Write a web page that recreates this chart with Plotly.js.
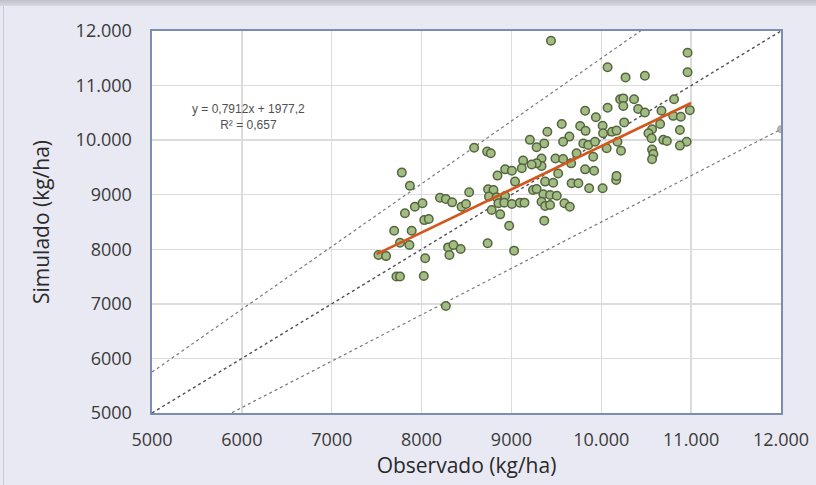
<!DOCTYPE html>
<html>
<head>
<meta charset="utf-8">
<script src="https://cdn.plot.ly/plotly-3.0.1.min.js"></script>
<style>
  html, body { margin: 0; padding: 0; background: #e9e9f3; }
  #chart { width: 816px; height: 485px; }
  #topbar { position: absolute; left: 0; top: 0; width: 816px; height: 6px;
            background: linear-gradient(#bfc0c8, #d8d8e2); z-index: 10; }
  #leftline { position: absolute; left: 3px; top: 6px; width: 1px; height: 479px;
            background: #c9c9d5; z-index: 10; }
</style>
</head>
<body>
<div id="topbar"></div>
<div id="leftline"></div>
<div id="chart"></div>
<script>
// Observed (x) and simulated (y) yields, kg/ha
const observado = [
  7870, 8205, 8270, 8340, 8530, 8445, 8495, 7925, 8010, 7815, 8030, 8080, 7695, 7890, 7760, 7865, 7520, 7605, 8040, 8295, 8355, 8435, 8310, 7720, 7760, 8025, 8270,
  8740, 8800, 8750, 8835, 8930, 8855, 8920, 9005, 9095, 9145, 8780, 8875, 8975, 8735, 9030, 9040, 9240,
  9280, 9375, 9465, 9670, 9745, 9865, 10015, 10165, 9355, 9430, 9505, 9335, 9375, 9430, 9590, 9650, 9365,
  9440, 10070, 10270, 10485, 10960, 10960, 10210, 10245, 10365, 10245, 10070, 10410, 10485, 10670, 10810, 10985, 10800, 10885, 9820, 9940, 10255, 9560, 9400, 9765, 9825, 10015, 10020, 10120, 10170, 10655, 10565, 10525, 10560, 10875, 10690, 10730, 10950, 10875, 9645, 9575, 9365, 9280, 9800, 9855, 9930, 10060, 10180, 10220, 9725, 9910, 10565, 10580, 10565, 9335, 9490, 9575, 9665, 9335, 9280, 9520, 9820, 9920, 10170,
  7780, 8585, 8730, 8770, 9205, 9130, 9225, 8930, 9005, 8845, 9115
];
const simulado = [
  9165, 8945, 8920, 8860, 9045, 8780, 8830, 8780, 8845, 8660, 8535, 8555, 8340, 8340, 8120, 8080, 7895, 7875, 7835, 8035, 8080, 8005, 7895, 7500, 7500, 7510, 6960,
  9100, 9085, 8965, 8955, 8975, 8845, 8855, 8830, 8855, 8855, 8720, 8640, 8430, 8110, 7975, 9240, 9085,
  9105, 9240, 9220, 9210, 9210, 9120, 9120, 9270, 9010, 8995, 8980, 8870, 8795, 8810, 8845, 8780, 8525,
  11820, 11335, 11150, 11180, 11600, 11245, 10750, 10765, 10750, 10625, 10595, 10570, 10505, 10540, 10750, 10550, 10445, 10430, 10540, 10420, 10325, 10295, 10155, 10260, 10170, 10265, 10125, 10155, 10175, 10295, 10200, 10125, 10035, 10185, 10005, 9985, 9970, 9900, 10065, 9970, 9940, 9870, 9940, 9910, 9970, 9850, 9970, 9805, 9760, 9695, 9830, 9745, 9650, 9665, 9665, 9655, 9575, 9525, 9575, 9390, 9465, 9440, 9345,
  9405, 9860, 9790, 9760, 10005, 9625, 9555, 9465, 9440, 9350, 9485
];

// Trend line y = a x + b over the observed range
const fitSlope = 0.7912;
const fitIntercept = 1977.2;
const fitXRange = [7500, 11000];

// Reference lines y = k x (1:1, +15 %, -15 %)
const refRatios = [1, 1.15, 0.85];
const refXRange = [5000, 12000];

// Axes
const axisRange = [5000, 12000];
const tickVals = [5000, 6000, 7000, 8000, 9000, 10000, 11000, 12000];
const tickText = ["5000", "6000", "7000", "8000", "9000", "10.000", "11.000", "12.000"];

const eqText = "y = 0,7912x + 1977,2<br>R² = 0,657";

const traces = [];
refRatios.forEach(function (k, i) {
  traces.push({
    x: refXRange.slice(),
    y: refXRange.map(function (v) { return v * k; }),
    mode: i === 2 ? "lines+markers" : "lines",
    line: { color: i === 0 ? "#505050" : "#7a7a7a", width: i === 0 ? 1.4 : 1.2, dash: "dot" },
    marker: { size: [0, 7], color: "#9a9a9a", line: { color: "#7a7a7a", width: 1 } },
    hoverinfo: "skip",
    showlegend: false
  });
});
traces.push({
  x: observado,
  y: simulado,
  mode: "markers",
  type: "scatter",
  marker: { size: 8.5, color: "#a2bd84", line: { color: "#55653f", width: 1.5 } },
  showlegend: false
});
traces.push({
  x: fitXRange.slice(),
  y: fitXRange.map(function (v) { return fitSlope * v + fitIntercept; }),
  mode: "lines",
  line: { color: "#d4561c", width: 2.6 },
  showlegend: false
});

const tickFont = { family: "Open Sans, Noto Sans, sans-serif", size: 18, color: "#3a3a3a" };
const titleFont = { family: "Open Sans, Noto Sans, sans-serif", size: 21, color: "#2a2a2a" };

const layout = {
  width: 816,
  height: 485,
  margin: { l: 152, r: 35, t: 31, b: 72 },
  paper_bgcolor: "#e9e9f3",
  plot_bgcolor: "#ffffff",
  xaxis: {
    range: axisRange,
    tickvals: tickVals,
    ticktext: tickText,
    tickfont: tickFont,
    showgrid: true,
    gridcolor: "#dcdcdc",
    gridwidth: 1.5,
    zeroline: false,
    showline: true,
    mirror: true,
    linecolor: "#7b8db3",
    linewidth: 1.6,
    ticks: "",
    ticklabelstandoff: 10,
    title: { text: "Observado (kg/ha)", font: titleFont, standoff: 3 }
  },
  yaxis: {
    range: axisRange,
    tickvals: tickVals,
    ticktext: tickText,
    tickfont: tickFont,
    showgrid: true,
    gridcolor: "#dcdcdc",
    gridwidth: 1.5,
    zeroline: false,
    showline: true,
    mirror: true,
    linecolor: "#7b8db3",
    linewidth: 1.6,
    ticks: "",
    ticklabelstandoff: 15,
    title: { text: "Simulado (kg/ha)", font: titleFont, standoff: 20 }
  },
  annotations: [{
    x: 6070, y: 10420, xref: "x", yref: "y",
    text: eqText,
    showarrow: false,
    align: "center",
    font: { family: "Liberation Sans, Arial, sans-serif", size: 12, color: "#505050" }
  }]
};

Plotly.newPlot("chart", traces, layout, { displayModeBar: false, staticPlot: true });
</script>
</body>
</html>
